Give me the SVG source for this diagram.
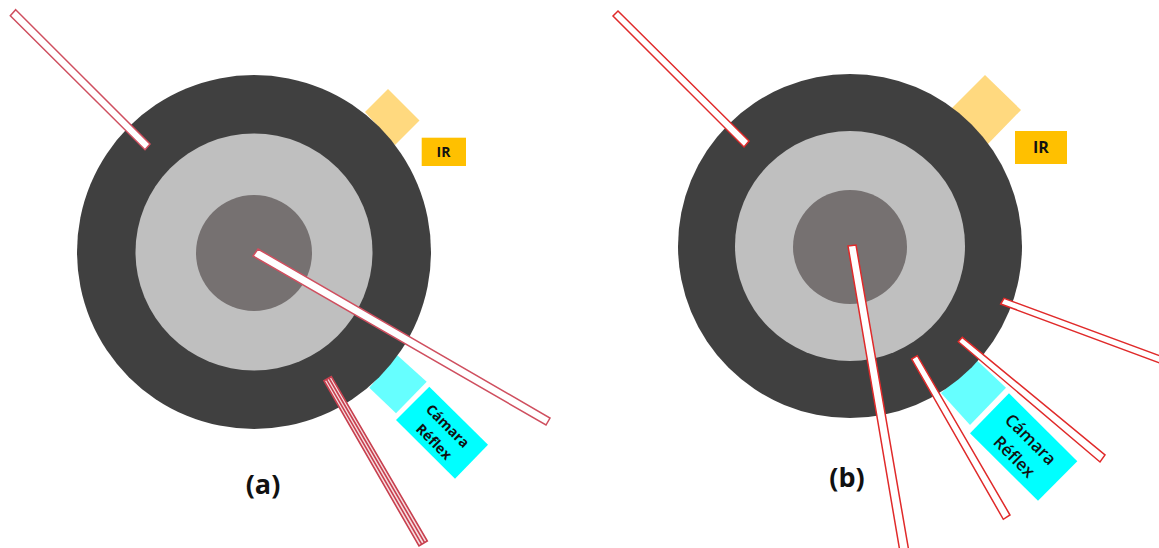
<svg xmlns="http://www.w3.org/2000/svg" width="1159" height="548" viewBox="0 0 1159 548">
<style>
.outer{fill:#404040}.mid{fill:#bfbfbf}.inner{fill:#767171}
.ysoft{fill:#ffd97f}.ybox{fill:#ffc000}.csoft{fill:#66ffff}.cbox{fill:#00ffff}
.tl{fill:#fff;stroke:#cf4f5f;stroke-width:1.5}
.tr{fill:#fff;stroke:#e02a2a;stroke-width:1.5}
.bl{fill:#f6dde0;stroke:#c8404f;stroke-width:1.6}
text{font-family:"Open Sans","Liberation Sans",sans-serif;fill:#111;text-anchor:middle}
.b{font-weight:700}
</style>
<rect width="1159" height="548" fill="#fff"/>
<g id="panel-a">
<g id="ir-source-a"><polygon class="ysoft" points="388,89 419.5,120.5 395,145 365,112"/></g>
<g id="camera-beam-a"><polygon class="csoft" points="397,355 426.7,381.7 396,413.3 369.3,387.7"/></g>
<g id="disc-a"><circle class="outer" cx="254" cy="252" r="177"/><circle class="mid" cx="254" cy="252" r="118.5"/><circle class="inner" cx="254" cy="253" r="58"/></g>
<g id="ir-label-a"><rect class="ybox" x="421.7" y="137.7" width="44.3" height="28.3"/><text class="b" x="443.5" y="157" font-size="14">IR</text></g>
<g id="camera-a"><polygon class="cbox" points="429.3,386.7 488,444.7 455,478.7 396,420"/>
<text class="b" transform="translate(447.7,426) rotate(45)" y="5" font-size="14">Cámara</text>
<text class="b" transform="translate(434,441.7) rotate(45)" y="5" font-size="14">Réflex</text></g>
<text id="label-a" class="b" x="263" y="494" font-size="27">(a)</text>
</g>
<g id="panel-b">
<g id="ir-source-b"><polygon class="ysoft" points="985,75 1021,110 985,147 952,108"/></g>
<g id="camera-beam-b"><polygon class="csoft" points="977.3,360.7 1006,387.7 970,425 941,393"/></g>
<g id="disc-b"><circle class="outer" cx="850" cy="246" r="172"/><circle class="mid" cx="850" cy="246" r="115"/><circle class="inner" cx="850" cy="247" r="57"/></g>
<g id="ir-label-b"><rect class="ybox" x="1015" y="131" width="52" height="33"/><text class="b" x="1041" y="153" font-size="16">IR</text></g>
<g id="camera-b"><polygon class="cbox" points="1009,393.3 1077.3,461.3 1038,500.7 970,433.3"/>
<text transform="translate(1030.7,439.3) rotate(45)" y="6" font-size="17" font-weight="600">Cámara</text>
<text transform="translate(1014.3,456.7) rotate(45)" y="6" font-size="17" font-weight="600">Réflex</text></g>
<text id="label-b" class="b" x="847" y="487" font-size="27">(b)</text>
</g>
<g id="connectors">
<polygon class="tl" points="15.7,9.7 150,144 145,149.7 10.3,15.7"/>
<polygon class="tl" points="258,249 550,418 546,425 253,256"/>
<polygon class="bl" points="324,380.7 331.3,376.7 427.3,541 419,546"/>
<path class="bl" fill="none" d="M326.4,379.4L421.8,544.3M328.9,378L424.6,542.6"/>
<polygon class="tr" points="618,11 749,141 744,147 613,16"/>
<polygon class="tr" points="848,246 856,245 909,552 900,552"/>
<polygon class="tr" points="1000.7,304 1004,298.3 1165,357.7 1165,365"/>
<polygon class="tr" points="958.3,341.7 962.3,337.3 1105,455 1100,462"/>
<polygon class="tr" points="911.7,359 917.3,355.7 1010,515 1003.3,519.3"/>
</g>
</svg>
